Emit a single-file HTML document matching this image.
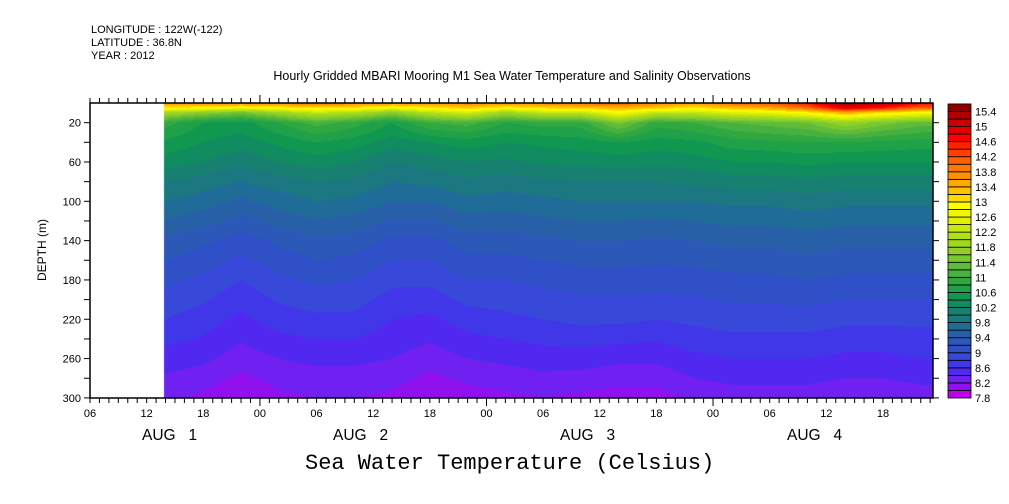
<!DOCTYPE html>
<html><head><meta charset="utf-8"><style>
body{margin:0;background:#fff;}
#wrap{position:relative;width:1009px;height:504px;overflow:hidden;font-family:"Liberation Sans",sans-serif;color:#000;}
.t{position:absolute;white-space:pre;line-height:1;}
</style></head><body>
<div id="wrap">
<div class="t" style="left:91px;top:25px;font-size:11px;">LONGITUDE : 122W(-122)</div>
<div class="t" style="left:91px;top:38px;font-size:11px;">LATITUDE : 36.8N</div>
<div class="t" style="left:91px;top:51px;font-size:11px;">YEAR : 2012</div>
<div class="t" style="left:512px;top:70px;font-size:12.5px;transform:translateX(-50%);">Hourly Gridded MBARI Mooring M1 Sea Water Temperature and Salinity Observations</div>
<div class="t" style="left:42px;top:250px;font-size:12px;transform:translate(-50%,-50%) rotate(-90deg);">DEPTH (m)</div>
<div class="t" style="left:305px;top:453px;font-size:22px;font-family:'Liberation Mono',monospace;">Sea Water Temperature (Celsius)</div>
<canvas id="cv" width="843" height="295" style="position:absolute;left:90px;top:103px;"></canvas>
<svg id="sv" width="1009" height="504" style="position:absolute;left:0;top:0;"></svg>
</div>
<script>
const times=[14,18,22,26,30,34,38,42,46,50,54,58,62,66,70,74,78,82,86,90,94];
const depths=[0,5,10,20,40,60,80,100,140,180,220,260,300];
const temp0=[13.6,13.8,13.7,13.8,14.0,13.8,13.7,13.6,13.8,13.7,13.8,14.0,14.1,13.8,13.6,14.0,14.2,14.6,15.4,15.2,14.8];
const temp5=[13.0,12.9,12.7,12.9,13.1,13.0,12.7,13.0,13.2,12.9,13.1,13.2,13.4,13.2,13.0,13.3,13.5,14.0,15.0,14.6,14.0];
const temp10=[11.9,11.6,11.4,11.8,12.2,12.0,11.6,12.1,12.4,11.8,12.2,12.2,12.8,12.2,12.2,12.5,12.6,12.9,13.4,13.0,12.8];
const temp20=[10.9,10.6,10.5,10.8,11.1,10.9,10.6,11.0,11.1,10.8,10.9,10.9,11.5,10.9,11.0,11.2,11.3,11.4,11.8,11.5,11.3];
const temp40=[10.55,10.4,10.3,10.45,10.6,10.5,10.3,10.4,10.5,10.4,10.45,10.5,10.6,10.5,10.55,10.7,10.75,10.8,10.8,10.75,10.7];
const temp60=[10.3,10.2,10.05,10.2,10.3,10.2,10.0,10.1,10.2,10.15,10.25,10.25,10.3,10.25,10.3,10.4,10.4,10.45,10.4,10.4,10.4];
const temp80=[10.0,9.9,9.8,9.9,10.0,9.95,9.8,9.85,9.95,9.9,9.95,10.0,10.0,10.0,10.05,10.1,10.1,10.15,10.1,10.1,10.1];
const temp100=[9.8,9.7,9.55,9.7,9.8,9.75,9.6,9.6,9.75,9.7,9.75,9.8,9.8,9.8,9.8,9.85,9.85,9.9,9.85,9.85,9.85];
const temp140=[9.35,9.25,9.1,9.25,9.35,9.3,9.15,9.15,9.3,9.3,9.35,9.4,9.4,9.35,9.4,9.45,9.45,9.5,9.45,9.45,9.45];
const temp180=[9.05,8.95,8.8,8.95,9.05,9.0,8.85,8.85,9.0,9.0,9.05,9.1,9.1,9.1,9.1,9.15,9.15,9.2,9.15,9.15,9.15];
const temp220=[8.8,8.7,8.55,8.7,8.75,8.75,8.6,8.55,8.7,8.75,8.8,8.85,8.85,8.8,8.85,8.9,8.9,8.9,8.85,8.85,8.85];
const temp260=[8.5,8.45,8.3,8.4,8.45,8.45,8.4,8.3,8.4,8.45,8.5,8.5,8.45,8.45,8.55,8.6,8.6,8.6,8.55,8.55,8.6];
const temp300=[8.25,8.15,8.0,8.15,8.2,8.2,8.15,8.0,8.1,8.15,8.2,8.15,8.1,8.1,8.25,8.3,8.3,8.3,8.25,8.25,8.3];
const dataEndHour=95.3;
const levelMin=7.8, levelStep=0.2, levelCount=39;
const colorbarLabels=[7.8,8.2,8.6,9,9.4,9.8,10.2,10.6,11,11.4,11.8,12.2,12.6,13,13.4,13.8,14.2,14.6,15,15.4];
const xTickLabels=['06','12','18','00','06','12','18','00','06','12','18','00','06','12','18'];
const yTickLabels=[20,60,100,140,180,220,260,300];
const dayLabels=['AUG   1','AUG   2','AUG   3','AUG   4'];

const grid=[temp0,temp5,temp10,temp20,temp40,temp60,temp80,temp100,temp140,temp180,temp220,temp260,temp300];
const palette=['#c000f0','#9010f0','#7020f0','#5028f0','#4038e8','#3848d8','#3050c8','#2c58b8','#2860a8','#206c98','#1c7880','#188070','#108c60','#109850','#20a048','#30a840','#48b040','#60bc38','#78c830','#90d028','#a0d820','#b0e018','#c8e810','#e0f000','#f0f800','#ffff00','#ffd800','#ffc000','#ffa800','#ff9000','#ff7800','#ff6000','#ff4000','#ff2000','#ff0000','#e00000','#cc0000','#b00000','#8b0000'];
const X0=90,PXH=9.44,Y0=103,PXM=0.983;
const xOf=h=>X0+(h-6)*PXH;
const yOf=d=>Y0+d*PXM;
const hOf=x=>6+(x-X0)/PXH;
const dOf=y=>(y-Y0)/PXM;
function seg(arr,v){let i=0;while(i<arr.length-2&&v>arr[i+1])i++;let f=(v-arr[i])/(arr[i+1]-arr[i]);f=Math.max(0,Math.min(1,f));return [i,f];}
function val(h,d){const [i,fi]=seg(times,h),[j,fj]=seg(depths,d);
 const a=grid[j][i],b=grid[j][i+1],c=grid[j+1][i],e=grid[j+1][i+1];
 return (a*(1-fi)+b*fi)*(1-fj)+(c*(1-fi)+e*fi)*fj;}
function hex(c){return [parseInt(c.substr(1,2),16),parseInt(c.substr(3,2),16),parseInt(c.substr(5,2),16)];}
const pal=palette.map(hex);
const cv=document.getElementById('cv'),ctx=cv.getContext('2d');
const W=cv.width,H=cv.height,img=ctx.createImageData(W,H);
const xStart=xOf(times[0]-0.2),xEnd=xOf(dataEndHour);
for(let py=0;py<H;py++){const d=dOf(Y0+py+0.5);
 for(let px=0;px<W;px++){const gx=X0+px+0.5;const k=(py*W+px)*4;
  if(gx<xStart||gx>xEnd){img.data[k]=255;img.data[k+1]=255;img.data[k+2]=255;img.data[k+3]=255;continue;}
  const v=val(hOf(gx),d);let idx=Math.floor((v-levelMin)/levelStep);idx=Math.max(0,Math.min(levelCount-1,idx));
  const c=pal[idx];img.data[k]=c[0];img.data[k+1]=c[1];img.data[k+2]=c[2];img.data[k+3]=255;}}
ctx.putImageData(img,0,0);

const NS='http://www.w3.org/2000/svg',sv=document.getElementById('sv');
function mk(tag,at){const e=document.createElementNS(NS,tag);for(const k in at)e.setAttribute(k,at[k]);sv.appendChild(e);return e;}
const XR=933,YB=398;
const frame=mk('rect',{x:X0,y:Y0,width:XR-X0,height:YB-Y0,fill:'none',stroke:'#000','stroke-width':1.5});


function xTickHourMax(){return 6+(XR-X0)/PXH;}
for(let h=6;h<=xTickHourMax();h++){const x=xOf(h);if(x>XR)break;const major=(h%24===0);
 const t1=mk('line',{x1:x,x2:x,y1:Y0,y2:Y0-(major?8:5),stroke:'#000'});
 
 
 const t2=mk('line',{x1:x,x2:x,y1:YB,y2:YB+(major?8:5),stroke:'#000'});
 
 }
xTickLabels.forEach((s,i)=>{const t=mk('text',{x:xOf(6+i*6),y:417,'font-size':11,'text-anchor':'middle','font-family':'Liberation Sans, sans-serif'});t.textContent=s;
 
 });
const dayX=[142,333,560,787];
dayLabels.forEach((s,i)=>{const t=mk('text',{x:dayX[i],y:440,'font-size':15.5,'font-family':'Liberation Sans, sans-serif','xml:space':'preserve'});t.textContent=s;t.style.whiteSpace='pre';
 
 });
for(let d=20;d<=300;d+=20){const y=yOf(d);
 const a=mk('line',{x1:X0,x2:X0-6,y1:y,y2:y,stroke:'#000'});
 
 
 const b=mk('line',{x1:XR,x2:XR+6,y1:y,y2:y,stroke:'#000'});
 
 }
yTickLabels.forEach(d=>{const t=mk('text',{x:X0-9,y:yOf(d)+4,'font-size':11,'text-anchor':'end','font-family':'Liberation Sans, sans-serif'});t.textContent=d;
 
 });
const CB_X=948,CB_W=23,CB_B=398,CB_H=7.54;
palette.forEach((c,i)=>{const r=mk('rect',{x:CB_X,y:CB_B-(i+1)*CB_H,width:CB_W,height:CB_H,fill:c,stroke:'#000','stroke-width':0.8});
 
 });
colorbarLabels.forEach(v=>{const y=CB_B-(v-levelMin)/levelStep*CB_H;const t=mk('text',{x:975,y:y+4,'font-size':11,'font-family':'Liberation Sans, sans-serif'});t.textContent=v;
 
 });
</script>
</body></html>
